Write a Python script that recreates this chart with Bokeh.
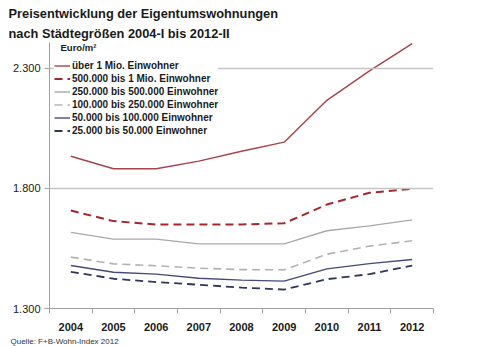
from bokeh.plotting import figure
from bokeh.models import Range1d, FixedTicker, Label, Legend, LegendItem, Span, Title
from bokeh.embed import file_html
from bokeh.resources import INLINE

years = [2004, 2005, 2006, 2007, 2008, 2009, 2010, 2011, 2012]
s_1mio = [1934, 1882, 1882, 1914, 1955, 1993, 2167, 2290, 2403]
s_500k = [1708, 1664, 1650, 1650, 1650, 1655, 1733, 1782, 1799]
s_250k = [1617, 1589, 1589, 1569, 1569, 1569, 1624, 1644, 1669]
s_100k = [1514, 1486, 1478, 1468, 1462, 1461, 1526, 1560, 1582]
s_50k = [1479, 1451, 1443, 1426, 1418, 1414, 1465, 1487, 1504]
s_25k = [1453, 1424, 1410, 1399, 1387, 1379, 1422, 1443, 1479]
names = ["über 1 Mio. Einwohner", "500.000 bis 1 Mio. Einwohner",
         "250.000 bis 500.000 Einwohner", "100.000 bis 250.000 Einwohner",
         "50.000 bis 100.000 Einwohner", "25.000 bis 50.000 Einwohner"]
y_ticks = [1300, 1800, 2300]
y_labels = ["1.300", "1.800", "2.300"]

FONT = "Liberation Sans"

p = figure(width=500, height=346, output_backend="svg", toolbar_location=None,
           x_range=Range1d(2003.5, 2012.5), y_range=Range1d(1300, 2408),
           min_border_left=49, min_border_right=67, min_border_top=42,
           min_border_bottom=0, title_location=None)
p.outline_line_color = None
p.background_fill_color = "white"
p.xgrid.visible = False
p.ygrid.visible = False

for v in y_ticks[1:]:
    p.add_layout(Span(location=v, dimension="width", line_color="#c4c4c4", line_width=1.6))

styles = [
    (s_1mio, "#a8424a", 1.4, "solid"),
    (s_500k, "#a5262c", 2.0, "8 5"),
    (s_250k, "#a9a9a9", 1.4, "solid"),
    (s_100k, "#b2b2b2", 1.6, "8 5"),
    (s_50k, "#45497a", 1.4, "solid"),
    (s_25k, "#2f3658", 1.8, "8 5"),
]
items = []
for (vals, col, w, dash), nm in zip(styles, names):
    r = p.line(years, vals, line_color=col, line_width=w, line_dash=dash)
    items.append(LegendItem(label=nm, renderers=[r]))

# axes
p.xaxis.ticker = FixedTicker(ticks=years, minor_ticks=[y + 0.5 for y in [2003] + years])
p.xaxis.major_label_overrides = {y: str(y) for y in years}
p.xaxis.major_tick_out = 0
p.xaxis.major_tick_in = 0
p.xaxis.minor_tick_out = 5
p.xaxis.minor_tick_in = 0
p.xaxis.minor_tick_line_color = "#a0a0a0"
p.xaxis.axis_line_color = "#a0a0a0"
p.xaxis.major_label_text_font = FONT
p.xaxis.major_label_text_font_size = "11px"
p.xaxis.major_label_text_font_style = "bold"
p.xaxis.major_label_text_color = "#1a1a1a"
p.xaxis.major_label_standoff = 9

p.yaxis.ticker = FixedTicker(ticks=y_ticks, minor_ticks=[])
p.yaxis.major_label_overrides = dict(zip(y_ticks, y_labels))
p.yaxis.major_tick_out = 5
p.yaxis.major_tick_in = 0
p.yaxis.major_tick_line_color = "#a0a0a0"
p.yaxis.axis_line_color = "#a0a0a0"
p.yaxis.major_label_text_font = FONT
p.yaxis.major_label_text_font_size = "11px"
p.yaxis.major_label_text_color = "#1a1a1a"
p.yaxis.major_label_standoff = 4

legend = Legend(items=items, location=(5, 171), padding=3, margin=0, spacing=0,
                label_height=13, glyph_height=13, glyph_width=16, label_standoff=2,
                label_text_font=FONT, label_text_font_size="10px",
                label_text_font_style="bold", label_text_color="#1a1a1a",
                background_fill_color="white", background_fill_alpha=1.0,
                border_line_color=None)
p.add_layout(legend)

p.add_layout(Label(x=11, y=261, x_units="screen", y_units="screen", text="Euro/m²",
                   text_font=FONT, text_font_size="9.5px", text_font_style="bold",
                   text_color="#1a1a1a", text_baseline="middle"))

def title(text, size, style, color, place, standoff):
    t = Title(text=text, align="left", offset=-41 if place == "above" else -39,
              text_font=FONT, text_font_size=size, text_font_style=style,
              text_color=color, standoff=standoff)
    p.add_layout(t, place)

title("nach Städtegrößen 2004-I bis 2012-II", "12.8px", "bold", "#1a1a1a", "above", 4)
title("Preisentwicklung der Eigentumswohnungen", "12.8px", "bold", "#1a1a1a", "above", 2)
title("Quelle: F+B-Wohn-Index 2012", "8px", "normal", "#333333", "below", 2)

open("out.html", "w").write(file_html(p, INLINE))
